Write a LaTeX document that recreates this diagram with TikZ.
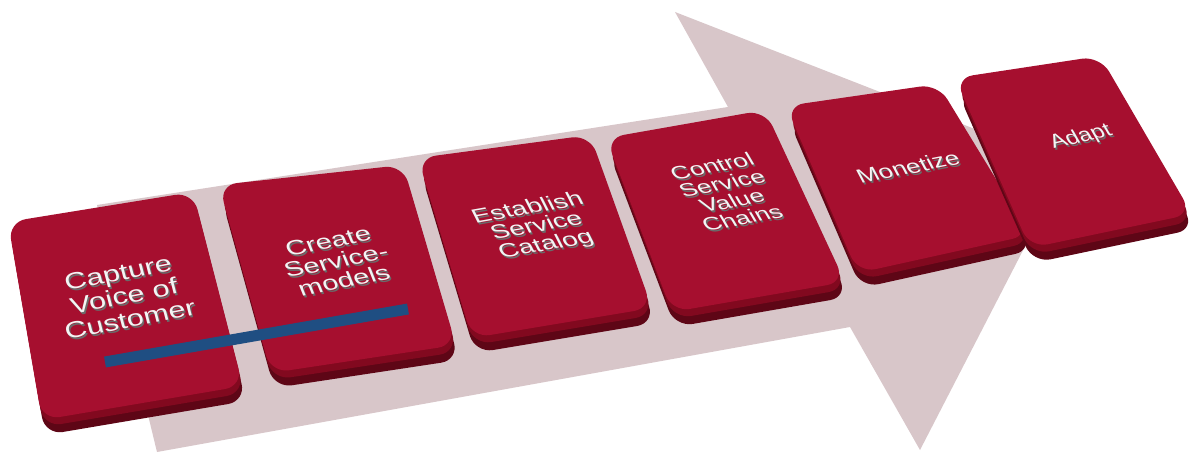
\documentclass[tikz,border=0pt]{standalone}
\usepackage{fontspec}
\setmainfont{Liberation Sans}
\definecolor{arrowc}{HTML}{D8C6C9}
\definecolor{face}{HTML}{A60F2F}
\definecolor{sidea}{HTML}{82091F}
\definecolor{sideb}{HTML}{5E0616}
\definecolor{bluebar}{HTML}{1F4E82}
\definecolor{txt}{HTML}{F4F4F4}
\definecolor{txtsh}{HTML}{6A6A6A}
\newcommand\drawslab[4]{%
  \path[fill=sideb, rounded corners=18pt, shift={(3,15)}] #1 -- #2 -- #3 -- #4 -- cycle;
  \path[fill=sidea, rounded corners=18pt, shift={(1.5,7)}] #1 -- #2 -- #3 -- #4 -- cycle;
  \path[fill=face, rounded corners=18pt] #1 -- #2 -- #3 -- #4 -- cycle;
}
\tikzset{
  lbl/.style={text=txt, align=center, inner sep=0pt},
  lblsh/.style={text=txtsh, align=center, inner sep=0pt},
  f1/.style={rotate=11, xslant=-0.06, xscale=1.33, font=\fontsize{23}{24}\selectfont},
  f2/.style={rotate=11, xslant=-0.19, xscale=1.36, font=\fontsize{21}{21}\selectfont},
  f3/.style={rotate=10, xslant=-0.30, xscale=1.37, font=\fontsize{20}{19.5}\selectfont},
  f4/.style={rotate=11, xslant=-0.35, xscale=1.35, font=\fontsize{19}{19}\selectfont},
  f5/.style={rotate=11, xslant=-0.30, xscale=1.27, font=\fontsize{20}{20}\selectfont},
  f6/.style={rotate=13, xslant=-0.30, xscale=1.17, font=\fontsize{20}{20}\selectfont},
}
\begin{document}
\begin{tikzpicture}[x=1pt,y=-1pt]
\fill[white] (0,0) rectangle (1196,454);
\useasboundingbox (0,0) rectangle (1196,454);
\clip (0,0) rectangle (1196,454);
% big arrow
\fill[arrowc] (97,205) -- (728,107) -- (675,12) -- (1067,165) -- (920,450) -- (850,327) -- (157,452) -- cycle;
% slabs
\drawslab{(8,222)}{(193,192)}{(243,386)}{(42,420)}
\drawslab{(219,185)}{(403,165)}{(456,345)}{(271,373)}
\drawslab{(418,158)}{(590,135)}{(652,308)}{(472,338)}
\drawslab{(606,138)}{(765,110)}{(845,282)}{(672,312)}
\drawslab{(786,106)}{(938,84)}{(1030,235)}{(858,273)}
\drawslab{(955,78)}{(1100,56)}{(1192,214)}{(1030,248)}
% labels
\node[lblsh, f1] (t1s) at (125.5,298) {Capture\\Voice of\\Customer};
\node[lbl, f1] (t1) at (124,296) {Capture\\Voice of\\Customer};
\node[lblsh, f2] (t2s) at (337.5,263) {Create\\Service-\\models};
\node[lbl, f2] (t2) at (336,261) {Create\\Service-\\models};
\node[lblsh, f3] (t3s) at (538.5,229) {Establish\\Service\\Catalog};
\node[lbl, f3] (t3) at (537,227) {Establish\\Service\\Catalog};
\node[lblsh, f4] (t4s) at (728.5,194) {Control\\Service\\Value\\Chains};
\node[lbl, f4] (t4) at (727,192) {Control\\Service\\Value\\Chains};
\node[lblsh, f5] (t5s) at (909.5,169) {Monetize};
\node[lbl, f5] (t5) at (908,167) {Monetize};
\node[lblsh, f6] (t6s) at (1082.5,139) {Adapt};
\node[lbl, f6] (t6) at (1081,137) {Adapt};
% blue bar
\coordinate (b1) at (105,362);
\coordinate (b2) at (408,309);
\draw[bluebar, line width=11pt] (b1) -- (b2);
\end{tikzpicture}
\end{document}
